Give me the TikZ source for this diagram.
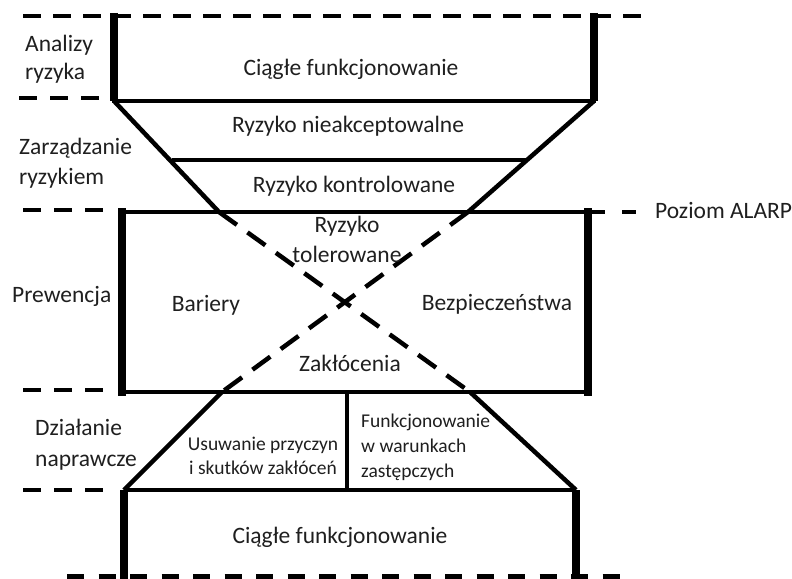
\documentclass[tikz,border=0pt]{standalone}
\usepackage{fontspec}
\setmainfont{Carlito}
\begin{document}
\begin{tikzpicture}[x=1pt,y=-1pt,
  big/.style={font=\fontsize{23.5}{28}\selectfont, inner sep=0pt, anchor=base, text=black!88},
  bigw/.style={big, anchor=base west},
  small/.style={font=\fontsize{19.5}{24}\selectfont, inner sep=0pt, anchor=base, text=black!88},
  smallw/.style={small, anchor=base west},
  thinln/.style={line width=4.5pt},
  thickln/.style={line width=8.5pt},
  lvl/.style={line width=4.5pt, dash pattern=on 18pt off 13pt},
  lvltop/.style={line width=4.5pt, dash pattern=on 18pt off 12pt},
  lvlbot/.style={line width=5pt, dash pattern=on 17pt off 14.5pt},
  xdash/.style={line width=4.5pt, dash pattern=on 22pt off 13pt}]
\useasboundingbox (0,0) rectangle (792,578);
\clip (0,0) rectangle (792,578);

% --- coordinates
\coordinate (T1) at (23,16);   \coordinate (T2) at (641,16);
\coordinate (A1) at (114,13);  \coordinate (A2) at (114,101);
\coordinate (A3) at (594,13);  \coordinate (A4) at (594,101);
\coordinate (A2o) at (112,101); \coordinate (A4o) at (596,101);
\coordinate (B1) at (172,160); \coordinate (B2) at (526,160);
\coordinate (C1) at (122,208); \coordinate (C1b) at (122,396);
\coordinate (C2) at (588,208); \coordinate (C2b) at (588,396);
\coordinate (CT1) at (122,212); \coordinate (CT2) at (605,212);
\coordinate (CB1) at (122,392); \coordinate (CB2) at (588,392);
\coordinate (AL1) at (622,212); \coordinate (AL2) at (636,212);
\coordinate (X1) at (219,212); \coordinate (X2) at (468,212);
\coordinate (X3) at (222,392); \coordinate (X4) at (470,392);
\coordinate (E1) at (347,392); \coordinate (E2) at (347,490);
\coordinate (D1) at (124,490); \coordinate (D2) at (576,490);
\coordinate (D1b) at (124,580); \coordinate (D2b) at (576,580);
\coordinate (L1a) at (19,98);  \coordinate (L1b) at (100,98);
\coordinate (L2a) at (23,210); \coordinate (L2b) at (103,210);
\coordinate (L3a) at (23,390); \coordinate (L3b) at (103,390);
\coordinate (L4a) at (23,490); \coordinate (L4b) at (103,490);
\coordinate (BB1) at (67,576); \coordinate (BB2) at (620,576);

% --- level dashed lines
\draw[lvltop] (T1) -- (T2);
\draw[lvl] (L1a) -- (L1b);
\draw[lvl] (L2a) -- (L2b);
\draw[lvl] (AL1) -- (AL2);
\draw[lvl] (L3a) -- (L3b);
\draw[lvl] (L4a) -- (L4b);
\draw[lvlbot] (BB1) -- (BB2);

% --- top box
\draw[thickln] (A1) -- (A2);
\draw[thickln] (A3) -- (A4);
\draw[thinln] (A2o) -- (A4o);
\draw[thinln] (B1) -- (B2);
\draw[thinln] (A2) -- (X1);
\draw[thinln] (A4) -- (X2);

% --- middle box
\draw[thinln] (CT1) -- (CT2);
\draw[thinln] (CB1) -- (CB2);
\draw[thickln] (C1) -- (C1b);
\draw[thickln] (C2) -- (C2b);
\draw[xdash] (X1) -- (X4);
\draw[xdash] (X2) -- (X3);

% --- bottom part
\draw[thinln] (X3) -- (D1);
\draw[thinln] (X4) -- (D2);
\draw[line width=4pt] (E1) -- (E2);
\draw[thinln] (D1) -- (D2);
\draw[thickln] (D1) -- (D1b);
\draw[thickln] (D2) -- (D2b);

% --- texts
\node[bigw] (an1) at (25,52) {Analizy};
\node[bigw] (an2) at (25,80) {ryzyka};
\node[bigw] (za1) at (19,154) {Zarządzanie};
\node[bigw] (za2) at (19,184) {ryzykiem};
\node[bigw] (pr)  at (12,302) {Prewencja};
\node[bigw] (dz1) at (35,435) {Działanie};
\node[bigw] (dz2) at (35,466) {naprawcze};
\node[bigw] (alarp) at (655,218) {Poziom ALARP};

\node[big] (cf1) at (351,75) {Ciągłe funkcjonowanie};
\node[big] (rn)  at (348,132) {Ryzyko nieakceptowalne};
\node[big] (rk)  at (354,192) {Ryzyko kontrolowane};
\node[big] (rt1) at (347,232) {Ryzyko};
\node[big] (rt2) at (347,262) {tolerowane};
\node[big] (bar) at (206,311) {Bariery};
\node[big] (bez) at (497,310) {Bezpieczeństwa};
\node[big] (zak) at (350,371) {Zakłócenia};
\node[small] (us1) at (263,450) {Usuwanie przyczyn};
\node[small] (us2) at (263,474) {i skutków zakłóceń};
\node[smallw] (fu1) at (361,427) {Funkcjonowanie};
\node[smallw] (fu2) at (361,452) {w warunkach};
\node[smallw] (fu3) at (361,477) {zastępczych};
\node[big] (cf2) at (340,543) {Ciągłe funkcjonowanie};
\end{tikzpicture}
\end{document}
